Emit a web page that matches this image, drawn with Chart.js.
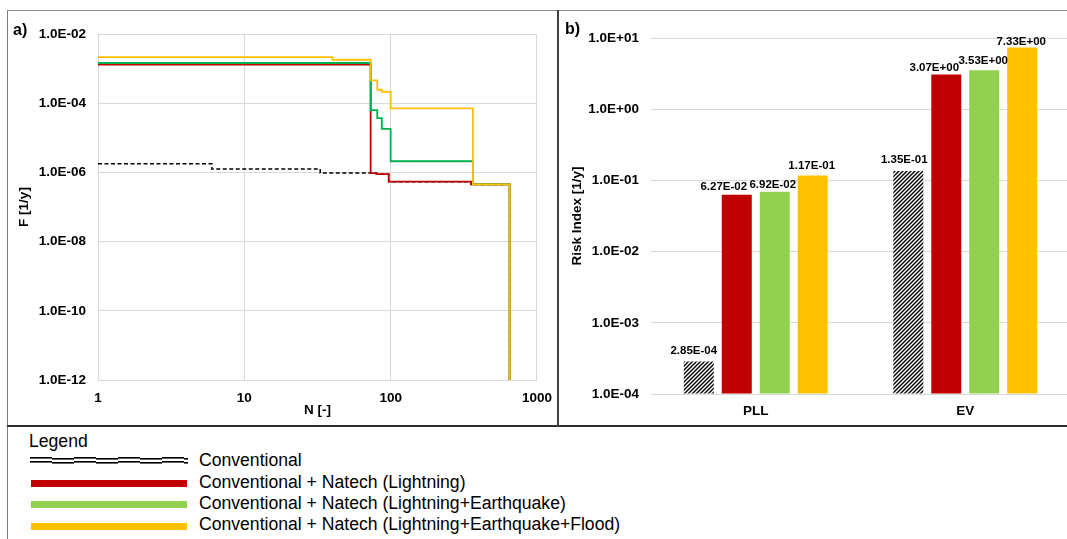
<!DOCTYPE html>
<html>
<head>
<meta charset="utf-8">
<script src="https://cdn.jsdelivr.net/npm/chart.js@4"></script>
<style>
  html, body { margin:0; padding:0; background:#fff; width:1067px; height:539px; overflow:hidden; position:relative; font-family:"Liberation Sans", Arial, sans-serif; }
  .abs { position:absolute; }
  .line { position:absolute; }
  .lg { position:absolute; font-size:17.6px; color:#000; white-space:nowrap; line-height:20px; }
  .sw { position:absolute; left:31px; width:156px; height:7px; }
</style>
</head>
<body>
<div class="line" style="left:7px;top:10px;width:1060px;height:1px;background:#8c8c8c;"></div>
<div class="line" style="left:7px;top:10px;width:1px;height:529px;background:#7f7f7f;"></div>
<div class="line" style="left:7px;top:425px;width:1060px;height:2px;background:#303030;"></div>

<div class="abs" style="left:8px;top:11px;width:554px;height:414px;"><canvas id="cA"></canvas></div>
<div class="abs" style="left:559px;top:11px;width:511px;height:414px;"><canvas id="cB"></canvas></div>
<div class="line" style="left:557px;top:10px;width:2px;height:417px;background:#404040;"></div>

<div class="abs" style="left:13px;top:21px;font-weight:bold;font-size:16px;">a)</div>
<div class="abs" style="left:565px;top:20px;font-weight:bold;font-size:16px;">b)</div>

<div class="lg" style="left:29px;top:431px;">Legend</div>
<canvas id="convSw" class="abs" width="158" height="10" style="left:30px;top:456px;"></canvas>
<div class="sw" style="top:480px;background:#C00000;"></div>
<div class="sw" style="top:501px;background:#92D050;"></div>
<div class="sw" style="top:523px;background:#FFC000;"></div>
<div class="lg" style="left:199px;top:450px;">Conventional</div>
<div class="lg" style="left:199px;top:472px;">Conventional + Natech (Lightning)</div>
<div class="lg" style="left:199px;top:493px;">Conventional + Natech (Lightning+Earthquake)</div>
<div class="lg" style="left:199px;top:514px;">Conventional + Natech (Lightning+Earthquake+Flood)</div>

<script>
// ---------- Data: F-N curves (panel a) ----------
const convN   = [1, 6, 33, 80, 97, 355, 650];
const convF   = [1.77e-6, 1.25e-6, 9.6e-7, 8.9e-7, 5.4e-7, 4.5e-7, 1e-12];
const redN    = [1, 73, 80, 97, 355, 650];
const redF    = [1.3e-3, 9.5e-7, 8.9e-7, 5.4e-7, 4.5e-7, 1e-12];
const greenN  = [1, 73, 81, 87, 100, 365, 650];
const greenF  = [1.45e-3, 6.3e-5, 3.7e-5, 1.8e-5, 2.1e-6, 4.5e-7, 1e-12];
const yellowN = [1, 40, 73, 81, 87, 100, 365, 650];
const yellowF = [2.15e-3, 1.8e-3, 4.55e-4, 2.45e-4, 2.14e-4, 7.1e-5, 4.5e-7, 1e-12];
const xTicksA = [1, 10, 100, 1000];
const yTicksA = [1e-12, 1e-10, 1e-8, 1e-6, 1e-4, 1e-2];

// ---------- Data: risk indices (panel b) ----------
const categoriesB = ['PLL', 'EV'];
const seriesNames = ['Conventional', 'Conventional + Natech (Lightning)', 'Conventional + Natech (Lightning+Earthquake)', 'Conventional + Natech (Lightning+Earthquake+Flood)'];
const conventionalB = [2.85e-4, 1.35e-1];
const lightningB    = [6.27e-2, 3.07];
const lightEqB      = [6.92e-2, 3.53];
const lightEqFloodB = [1.17e-1, 7.33];
const yTicksB = [1e-4, 1e-3, 1e-2, 1e-1, 1, 10];

// label placement tweaks (style, per dataset then category) as in the original figure
const labelDx = [[-5, -4], [-13, -12], [-2, -1], [-1, -1]];
const labelDy = [[-11, -11], [-8, -7], [-7, -9], [-10, -6]];

function fmtE(v, d) {
  const parts = Number(v).toExponential(d).split('e');
  const n = parseInt(parts[1], 10);
  return parts[0] + 'E' + (n < 0 ? '-' : '+') + String(Math.abs(n)).padStart(2, '0');
}
const FF = '"Liberation Sans", Arial, sans-serif';
const tickFont = { family: FF, size: 13.5, weight: 'bold' };
const gridCol = '#d9d9d9';
Chart.defaults.animation = false;

function pts(ns, fs) { return ns.map((n, i) => ({ x: n, y: fs[i] })); }

new Chart(document.getElementById('cA'), {
  type: 'scatter',
  data: {
    datasets: [
      { label: 'Conventional', data: pts(convN, convF), borderColor: '#000', borderWidth: 1.5, borderDash: [4, 2.5], showLine: true, stepped: true, pointRadius: 0, order: 4 },
      { label: 'Lightning', data: pts(redN, redF), borderColor: '#C00000', borderWidth: 1.8, showLine: true, stepped: true, pointRadius: 0, order: 3 },
      { label: 'Lightning+Earthquake', data: pts(greenN, greenF), borderColor: '#00B050', borderWidth: 1.8, showLine: true, stepped: true, pointRadius: 0, order: 2 },
      { label: 'Lightning+Earthquake+Flood', data: pts(yellowN, yellowF), borderColor: '#FFC000', borderWidth: 1.8, showLine: true, stepped: true, pointRadius: 0, order: 1 }
    ]
  },
  options: {
    responsive: true, maintainAspectRatio: false,
    layout: { padding: { top: 23, right: 15, left: 0, bottom: 0 } },
    plugins: { legend: { display: false }, tooltip: { enabled: false } },
    scales: {
      x: {
        type: 'logarithmic', min: 1, max: 1000,
        afterBuildTicks: s => { s.ticks = xTicksA.map(v => ({ value: v })); },
        afterFit: s => { s.height = 45; },
        ticks: { callback: v => String(v), font: tickFont, color: '#000', padding: 10, maxRotation: 0, autoSkip: false },
        grid: { color: gridCol, drawTicks: false },
        border: { color: gridCol },
        title: { display: true, text: 'N [-]', font: tickFont, color: '#000', padding: { top: 0, bottom: 7 } }
      },
      y: {
        type: 'logarithmic', min: 1e-12, max: 1e-2,
        afterBuildTicks: s => { s.ticks = yTicksA.map(v => ({ value: v })); },
        afterFit: s => { s.width = 90; },
        ticks: { callback: v => fmtE(v, 1), font: tickFont, color: '#000', padding: 12, autoSkip: false },
        grid: { color: gridCol, drawTicks: false },
        border: { color: gridCol },
        title: { display: true, text: 'F [1/y]', font: tickFont, color: '#000', padding: { top: 8, bottom: 0 } }
      }
    }
  }
});

// hatch pattern for conventional bars
function hatch() {
  const c = document.createElement('canvas');
  c.width = 4; c.height = 4;
  const g = c.getContext('2d');
  g.fillStyle = '#fff'; g.fillRect(0, 0, 4, 4);
  g.strokeStyle = '#000'; g.lineWidth = 1.4;
  g.beginPath();
  g.moveTo(-1, 1); g.lineTo(1, -1);
  g.moveTo(0, 4); g.lineTo(4, 0);
  g.moveTo(3, 5); g.lineTo(5, 3);
  g.stroke();
  return g.createPattern(c, 'repeat');
}

const barLabels = {
  id: 'barLabels',
  afterDatasetsDraw(chart) {
    const ctx = chart.ctx;
    ctx.save();
    ctx.font = 'bold 11.5px ' + FF;
    ctx.fillStyle = '#000';
    ctx.textAlign = 'center';
    ctx.textBaseline = 'middle';
    chart.data.datasets.forEach((ds, i) => {
      chart.getDatasetMeta(i).data.forEach((bar, j) => {
        ctx.fillText(fmtE(ds.data[j], 2), bar.x + labelDx[i][j], bar.y + labelDy[i][j]);
      });
    });
    ctx.restore();
  }
};

const barCommon = { categoryPercentage: 0.725, barPercentage: 0.79, borderWidth: 0, base: 1e-4 };
new Chart(document.getElementById('cB'), {
  type: 'bar',
  data: {
    labels: categoriesB,
    datasets: [
      Object.assign({ label: seriesNames[0], data: conventionalB, backgroundColor: hatch() }, barCommon),
      Object.assign({ label: seriesNames[1], data: lightningB, backgroundColor: '#C00000' }, barCommon),
      Object.assign({ label: seriesNames[2], data: lightEqB, backgroundColor: '#92D050' }, barCommon),
      Object.assign({ label: seriesNames[3], data: lightEqFloodB, backgroundColor: '#FFC000' }, barCommon)
    ]
  },
  options: {
    responsive: true, maintainAspectRatio: false,
    layout: { padding: { top: 27, right: 0, left: 0, bottom: 0 } },
    plugins: { legend: { display: false }, tooltip: { enabled: false } },
    scales: {
      x: {
        afterFit: s => { s.height = 31; },
        ticks: { font: tickFont, color: '#000', padding: 9 },
        grid: { display: false, drawTicks: false },
        border: { display: false }
      },
      y: {
        type: 'logarithmic', min: 1e-4, max: 10,
        afterBuildTicks: s => { s.ticks = yTicksB.map(v => ({ value: v })); },
        afterFit: s => { s.width = 92; },
        ticks: { callback: v => fmtE(v, 1), font: tickFont, color: '#000', padding: 12, autoSkip: false },
        grid: { color: gridCol, drawTicks: false },
        border: { display: false },
        title: { display: true, text: 'Risk Index [1/y]', font: tickFont, color: '#000', padding: { top: 10, bottom: 0 } }
      }
    }
  },
  plugins: [barLabels]
});

// legend sample for the conventional (double dashed) line
(function () {
  const g = document.getElementById('convSw').getContext('2d');
  g.fillStyle = '#000';
  const seg = 22;
  for (let i = 0, x = 0; x < 158; i++, x += seg) {
    const off = (i % 2) ? 1 : 0;
    const w = Math.min(seg, 158 - x);
    g.fillRect(x, 1 + off, w, 1.6);
    g.fillRect(x, 5 + off, w, 1.6);
  }
})();
</script>
</body>
</html>
